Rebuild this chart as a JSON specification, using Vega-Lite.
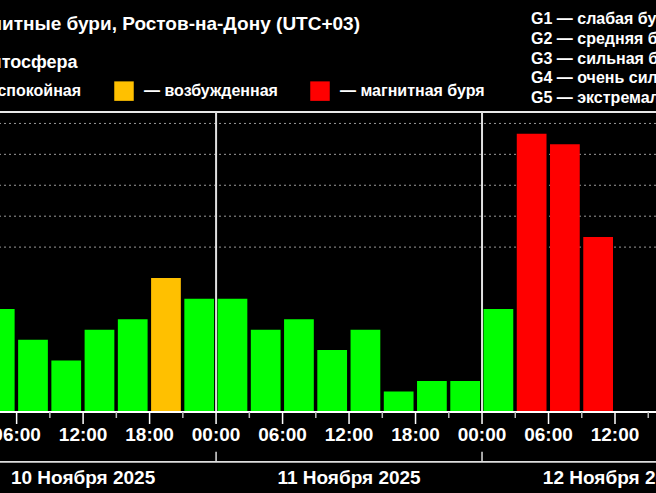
{
  "$schema": "https://vega.github.io/schema/vega-lite/v6.json",
  "width": 656,
  "height": 300,
  "autosize": {"type": "none"},
  "padding": {"left": 0, "top": 112, "right": 0, "bottom": 81},
  "background": "#000000",
  "title": {"text": "Магнитные бури, Ростов-на-Дону (UTC+03)", "anchor": "start", "frame": "group", "dx": -44, "offset": -23, "fontSize": 19, "fontWeight": "bold", "color": "#ffffff", "font": "Liberation Sans"},
  "config": {"view": {"stroke": null}, "font": "Liberation Sans"},
  "datasets": {
    "kp": [
      {"start": "2025-11-10T03:00:00Z", "end": "2025-11-10T06:00:00Z", "kp": 3.0, "status": "— спокойная"},
      {"start": "2025-11-10T06:00:00Z", "end": "2025-11-10T09:00:00Z", "kp": 2.0, "status": "— спокойная"},
      {"start": "2025-11-10T09:00:00Z", "end": "2025-11-10T12:00:00Z", "kp": 1.33, "status": "— спокойная"},
      {"start": "2025-11-10T12:00:00Z", "end": "2025-11-10T15:00:00Z", "kp": 2.33, "status": "— спокойная"},
      {"start": "2025-11-10T15:00:00Z", "end": "2025-11-10T18:00:00Z", "kp": 2.67, "status": "— спокойная"},
      {"start": "2025-11-10T18:00:00Z", "end": "2025-11-10T21:00:00Z", "kp": 4.0, "status": "— возбужденная"},
      {"start": "2025-11-10T21:00:00Z", "end": "2025-11-11T00:00:00Z", "kp": 3.33, "status": "— спокойная"},
      {"start": "2025-11-11T00:00:00Z", "end": "2025-11-11T03:00:00Z", "kp": 3.33, "status": "— спокойная"},
      {"start": "2025-11-11T03:00:00Z", "end": "2025-11-11T06:00:00Z", "kp": 2.33, "status": "— спокойная"},
      {"start": "2025-11-11T06:00:00Z", "end": "2025-11-11T09:00:00Z", "kp": 2.67, "status": "— спокойная"},
      {"start": "2025-11-11T09:00:00Z", "end": "2025-11-11T12:00:00Z", "kp": 1.67, "status": "— спокойная"},
      {"start": "2025-11-11T12:00:00Z", "end": "2025-11-11T15:00:00Z", "kp": 2.33, "status": "— спокойная"},
      {"start": "2025-11-11T15:00:00Z", "end": "2025-11-11T18:00:00Z", "kp": 0.33, "status": "— спокойная"},
      {"start": "2025-11-11T18:00:00Z", "end": "2025-11-11T21:00:00Z", "kp": 0.67, "status": "— спокойная"},
      {"start": "2025-11-11T21:00:00Z", "end": "2025-11-12T00:00:00Z", "kp": 0.67, "status": "— спокойная"},
      {"start": "2025-11-12T00:00:00Z", "end": "2025-11-12T03:00:00Z", "kp": 3.0, "status": "— спокойная"},
      {"start": "2025-11-12T03:00:00Z", "end": "2025-11-12T06:00:00Z", "kp": 8.67, "status": "— магнитная буря"},
      {"start": "2025-11-12T06:00:00Z", "end": "2025-11-12T09:00:00Z", "kp": 8.33, "status": "— магнитная буря"},
      {"start": "2025-11-12T09:00:00Z", "end": "2025-11-12T12:00:00Z", "kp": 5.33, "status": "— магнитная буря"}
    ],
    "levels": [
      {"kp": 5, "label": "G1 — слабая буря"},
      {"kp": 6, "label": "G2 — средняя буря"},
      {"kp": 7, "label": "G3 — сильная буря"},
      {"kp": 8, "label": "G4 — очень сильная буря"},
      {"kp": 9, "label": "G5 — экстремальная буря"}
    ],
    "days": [
      {"t": "2025-11-11T00:00:00Z"},
      {"t": "2025-11-12T00:00:00Z"}
    ],
    "minor": [
      {"t": "2025-11-10T09:00:00Z"},
      {"t": "2025-11-10T15:00:00Z"},
      {"t": "2025-11-10T21:00:00Z"},
      {"t": "2025-11-11T03:00:00Z"},
      {"t": "2025-11-11T09:00:00Z"},
      {"t": "2025-11-11T15:00:00Z"},
      {"t": "2025-11-11T21:00:00Z"},
      {"t": "2025-11-12T03:00:00Z"},
      {"t": "2025-11-12T09:00:00Z"},
      {"t": "2025-11-12T15:00:00Z"}
    ],
    "major": [
      {"t": "2025-11-10T06:00:00Z", "label": "06:00"},
      {"t": "2025-11-10T12:00:00Z", "label": "12:00"},
      {"t": "2025-11-10T18:00:00Z", "label": "18:00"},
      {"t": "2025-11-11T00:00:00Z", "label": "00:00"},
      {"t": "2025-11-11T06:00:00Z", "label": "06:00"},
      {"t": "2025-11-11T12:00:00Z", "label": "12:00"},
      {"t": "2025-11-11T18:00:00Z", "label": "18:00"},
      {"t": "2025-11-12T00:00:00Z", "label": "00:00"},
      {"t": "2025-11-12T06:00:00Z", "label": "06:00"},
      {"t": "2025-11-12T12:00:00Z", "label": "12:00"}
    ],
    "dates": [
      {"t": "2025-11-10T12:00:00Z", "label": "10 Ноября 2025"},
      {"t": "2025-11-11T12:00:00Z", "label": "11 Ноября 2025"},
      {"t": "2025-11-12T12:00:00Z", "label": "12 Ноября 2025"}
    ]
  },
  "layer": [
    {
      "data": {"name": "levels"},
      "mark": {"type": "rule", "color": "#9a9a9a", "strokeWidth": 1, "strokeDash": [2, 3]},
      "encoding": {
        "y": {"field": "kp", "type": "quantitative", "scale": {"domain": [-0.3333, 9.37], "nice": false, "zero": false}, "axis": null},
        "opacity": {
          "field": "label", "type": "nominal",
          "scale": {"range": [1, 1, 1, 1, 1]},
          "legend": {"orient": "none", "legendX": 515, "legendY": -100.7, "direction": "vertical", "title": null, "symbolType": "square", "symbolSize": 1, "symbolStrokeWidth": 0, "symbolFillColor": "#000000", "labelOffset": 0, "labelFontSize": 16, "labelFontWeight": "bold", "labelColor": "#ffffff", "labelFont": "Liberation Sans", "rowPadding": 3.6, "padding": 0, "labelLimit": 400}
        }
      }
    },
    {
      "data": {"name": "levels"},
      "mark": {"type": "rule", "color": "#e8e8e8", "strokeWidth": 2},
      "encoding": {"y": {"datum": 9.37}}
    },
    {
      "data": {"name": "kp"},
      "mark": {"type": "bar", "clip": true, "xOffset": 1.5, "x2Offset": -2},
      "encoding": {
        "x": {"field": "start", "type": "temporal", "scale": {"type": "utc", "domain": [1762749000000, 1762962120000]}, "axis": null},
        "x2": {"field": "end"},
        "y": {"field": "kp", "type": "quantitative"},
        "y2": {"datum": -0.3333},
        "color": {
          "field": "status", "type": "nominal",
          "scale": {"domain": ["— спокойная", "— возбужденная", "— магнитная буря"], "range": ["#00ff00", "#ffc000", "#ff0000"]},
          "legend": {"orient": "none", "legendX": -53, "legendY": -58, "direction": "horizontal", "title": "Магнитосфера", "titleFontSize": 18, "titleFontWeight": "bold", "titleColor": "#ffffff", "titleFont": "Liberation Sans", "titlePadding": 9, "titleAnchor": "start", "symbolType": "square", "symbolSize": 380, "symbolStrokeWidth": 0, "symbolOpacity": 1, "labelFontSize": 16, "labelFontWeight": "bold", "labelColor": "#ffffff", "labelFont": "Liberation Sans", "labelOffset": 10, "columnPadding": 32, "padding": 0, "labelLimit": 300}
        }
      }
    },
    {
      "data": {"name": "days"},
      "mark": {"type": "rule", "color": "#e0e0e0", "strokeWidth": 2},
      "encoding": {
        "x": {"field": "t", "type": "temporal", "scale": {"type": "utc", "domain": [1762749000000, 1762962120000]}, "axis": null}
      }
    },
    {
      "data": {"name": "kp"},
      "mark": {"type": "rule", "color": "#ffffff", "strokeWidth": 2},
      "encoding": {"y": {"datum": -0.3333}}
    },
    {
      "data": {"name": "minor"},
      "mark": {"type": "rule", "color": "#bbbbbb", "strokeWidth": 1.5},
      "encoding": {
        "x": {"field": "t", "type": "temporal", "scale": {"type": "utc", "domain": [1762749000000, 1762962120000]}, "axis": null},
        "y": {"datum": -0.3333},
        "y2": {"datum": -0.527}
      }
    },
    {
      "data": {"name": "major"},
      "mark": {"type": "rule", "color": "#ffffff", "strokeWidth": 1.5},
      "encoding": {
        "x": {"field": "t", "type": "temporal", "scale": {"type": "utc", "domain": [1762749000000, 1762962120000]}, "axis": null},
        "y": {"datum": -0.3333},
        "y2": {"datum": -0.7214}
      }
    },
    {
      "data": {"name": "major"},
      "mark": {"type": "text", "color": "#ffffff", "fontSize": 19, "fontWeight": "bold", "font": "Liberation Sans", "baseline": "middle", "align": "center"},
      "encoding": {
        "x": {"field": "t", "type": "temporal", "scale": {"type": "utc", "domain": [1762749000000, 1762962120000]}, "axis": null},
        "y": {"datum": -1.077},
        "text": {"field": "label"}
      }
    },
    {
      "data": {"name": "days"},
      "mark": {"type": "rule", "color": "#dddddd", "strokeWidth": 1.5},
      "encoding": {
        "x": {"field": "t", "type": "temporal", "scale": {"type": "utc", "domain": [1762749000000, 1762962120000]}, "axis": null},
        "y": {"datum": -1.617},
        "y2": {"datum": -1.941}
      }
    },
    {
      "data": {"name": "days"},
      "mark": {"type": "rule", "color": "#dddddd", "strokeWidth": 1.5},
      "encoding": {"y": {"datum": -1.941}}
    },
    {
      "data": {"name": "dates"},
      "mark": {"type": "text", "color": "#ffffff", "fontSize": 19, "fontWeight": "bold", "font": "Liberation Sans", "baseline": "middle", "align": "center"},
      "encoding": {
        "x": {"field": "t", "type": "temporal", "scale": {"type": "utc", "domain": [1762749000000, 1762962120000]}, "axis": null},
        "y": {"datum": -2.46},
        "text": {"field": "label"}
      }
    }
  ]
}
